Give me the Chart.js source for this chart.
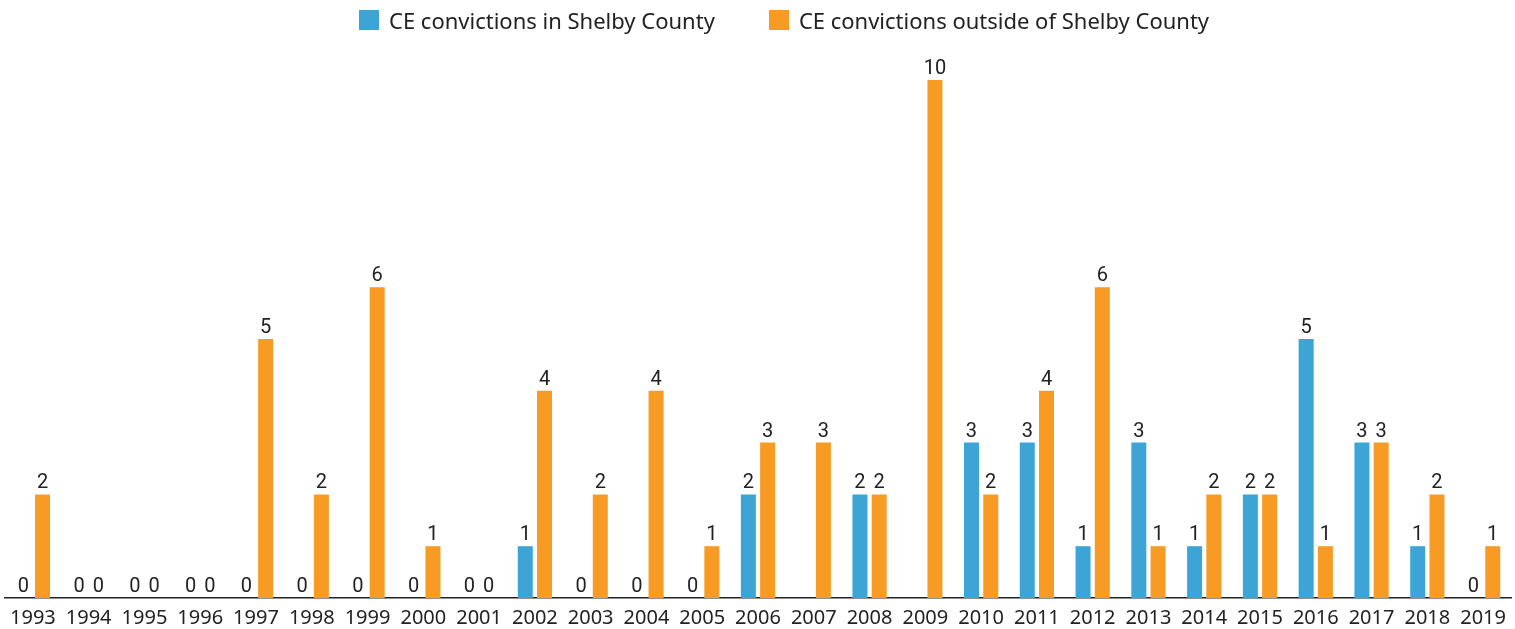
<!DOCTYPE html>
<html>
<head>
<meta charset="utf-8">
<script src="https://cdn.jsdelivr.net/npm/chart.js@4/dist/chart.umd.min.js"></script>
<style>
	body { margin: 0; background: #fff; }
	#wrap { position: relative; width: 1515px; height: 629px; }
	#legend { position: absolute; left: 359px; top: 10px; display: flex; font: 22px "Noto Sans"; color: #222; }
	.item { display: flex; align-items: center; margin-right: 54px; height: 20px; }
	.box { width: 20px; height: 20px; margin-right: 10px; }
</style>
</head>
<body>
<div id="wrap">
	<canvas id="myChart" width="1515" height="629"></canvas>
	<div id="legend"></div>
</div>
<script>
let years = ["1993", "1994", "1995", "1996", "1997", "1998", "1999", "2000", "2001", "2002", "2003", "2004", "2005", "2006",
	"2007", "2008", "2009", "2010", "2011", "2012", "2013", "2014", "2015", "2016", "2017", "2018", "2019"];

let inShelby = [0, 0, 0, 0, 0, 0, 0, 0, 0, 1, 0, 0, 0, 2, null, 2, null, 3, 3, 1, 3, 1, 2, 5, 3, 1, 0];
let outsideShelby = [2, 0, 0, 0, 5, 2, 6, 1, 0, 4, 2, 4, 1, 3, 3, 2, 10, 2, 4, 6, 1, 2, 2, 1, 3, 2, 1];

let seriesNames = ["CE convictions in Shelby County", "CE convictions outside of Shelby County"];
let seriesColors = ["rgb(61, 165, 214)", "rgb(247, 155, 36)"];

// value labels above each bar
const valueLabels = {
	id: "valueLabels",
	afterDatasetsDraw(chart) {
		let ctx = chart.ctx;
		ctx.save();
		ctx.font = "20px Roboto";
		ctx.fillStyle = "#222";
		ctx.textAlign = "center";
		ctx.textBaseline = "alphabetic";
		chart.data.datasets.forEach((ds, i) => {
			chart.getDatasetMeta(i).data.forEach((bar, j) => {
				let v = ds.data[j];
				if (v === null) return;
				ctx.fillText(String(v), bar.x, bar.y - 6);
			});
		});
		ctx.restore();
	},
};

let legend = document.getElementById("legend");
seriesNames.forEach((name, i) => {
	let item = document.createElement("div");
	item.className = "item";
	item.innerHTML = '<span class="box" style="background:' + seriesColors[i] + '"></span>' + name;
	legend.appendChild(item);
});

var ctx = document.getElementById("myChart").getContext("2d");
var chart = new Chart(ctx, {
	type: "bar",
	data: {
		labels: years,
		datasets: [
			{
				label: seriesNames[0],
				backgroundColor: seriesColors[0],
				data: inShelby,
			},
			{
				label: seriesNames[1],
				backgroundColor: seriesColors[1],
				data: outsideShelby,
			},
		],
	},
	options: {
		responsive: false,
		animation: false,
		layout: { padding: { top: 80, left: 5, right: 4, bottom: 1 } },
		datasets: { bar: { barPercentage: 0.78, categoryPercentage: 0.69 } },
		plugins: {
			legend: { display: false },
			tooltip: { enabled: false },
		},
		scales: {
			x: {
				// grid hidden, tickLength only used as label offset
				grid: { display: false, drawTicks: true, tickLength: 10 },
				border: { display: true, color: "#222", width: 1.5 },
				ticks: {
					color: "#222",
					font: { family: "Noto Sans", size: 20, lineHeight: 1 },
					padding: 0,
					maxRotation: 0,
					autoSkip: false,
				},
			},
			y: {
				display: false,
				min: 0,
				max: 10,
			},
		},
	},
	plugins: [valueLabels],
});
</script>
</body>
</html>
